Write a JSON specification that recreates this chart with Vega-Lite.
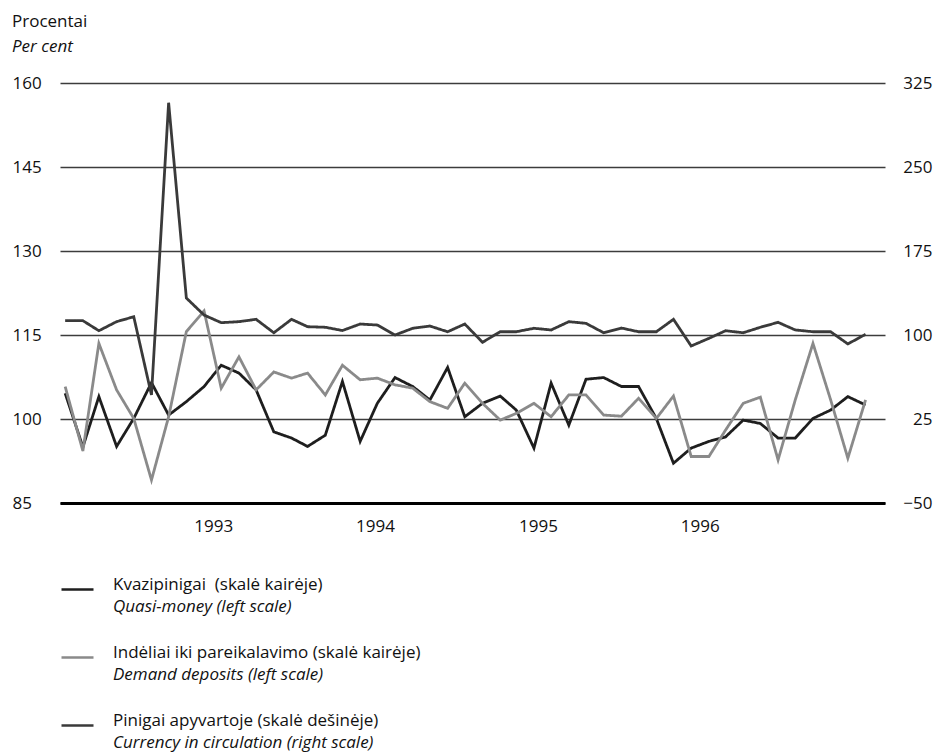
{
  "$schema": "https://vega.github.io/schema/vega-lite/v6.json",
  "autosize": "none",
  "padding": {"left": 60, "top": 83, "right": 56, "bottom": 249},
  "width": 825,
  "height": 420,
  "background": "white",
  "config": {
    "font": "Open Sans",
    "view": {"stroke": null},
    "axis": {"labelColor": "#111", "labelFontSize": 17, "title": null}
  },
  "title": {
    "text": "Procentai",
    "subtitle": "Per cent",
    "anchor": "start",
    "frame": "bounds",
    "fontSize": 17,
    "fontWeight": "normal",
    "color": "#111",
    "subtitleFontSize": 17,
    "subtitleFontStyle": "italic",
    "subtitleColor": "#111",
    "subtitlePadding": 8,
    "offset": 18
  },
  "datasets": {
    "monthly": [
      {"date": "1993-01-01", "quasi": 104.6, "demand": 105.8, "currency": 112.8},
      {"date": "1993-02-01", "quasi": 95.0, "demand": 94.3, "currency": 112.8},
      {"date": "1993-03-01", "quasi": 104.0, "demand": 113.5, "currency": 103.8},
      {"date": "1993-04-01", "quasi": 95.1, "demand": 105.2, "currency": 111.9},
      {"date": "1993-05-01", "quasi": 100.1, "demand": 100.1, "currency": 116.3},
      {"date": "1993-06-01", "quasi": 106.5, "demand": 89.1, "currency": 46.4},
      {"date": "1993-07-01", "quasi": 100.7, "demand": 100.4, "currency": 307.4},
      {"date": "1993-08-01", "quasi": 103.1, "demand": 115.6, "currency": 133.0},
      {"date": "1993-09-01", "quasi": 105.8, "demand": 119.3, "currency": 117.8},
      {"date": "1993-10-01", "quasi": 109.6, "demand": 105.5, "currency": 111.0},
      {"date": "1993-11-01", "quasi": 108.2, "demand": 111.1, "currency": 111.9},
      {"date": "1993-12-01", "quasi": 105.2, "demand": 105.2, "currency": 114.0},
      {"date": "1994-01-01", "quasi": 97.7, "demand": 108.4, "currency": 102.0},
      {"date": "1994-02-01", "quasi": 96.6, "demand": 107.3, "currency": 114.0},
      {"date": "1994-03-01", "quasi": 95.1, "demand": 108.2, "currency": 107.4},
      {"date": "1994-04-01", "quasi": 97.1, "demand": 104.3, "currency": 106.9},
      {"date": "1994-05-01", "quasi": 106.7, "demand": 109.6, "currency": 104.0},
      {"date": "1994-06-01", "quasi": 96.0, "demand": 107.0, "currency": 109.8},
      {"date": "1994-07-01", "quasi": 102.8, "demand": 107.3, "currency": 108.9},
      {"date": "1994-08-01", "quasi": 107.4, "demand": 106.1, "currency": 100.0},
      {"date": "1994-09-01", "quasi": 105.8, "demand": 105.5, "currency": 106.0},
      {"date": "1994-10-01", "quasi": 103.4, "demand": 103.1, "currency": 108.0},
      {"date": "1994-11-01", "quasi": 109.2, "demand": 101.9, "currency": 102.9},
      {"date": "1994-12-01", "quasi": 100.4, "demand": 106.4, "currency": 109.8},
      {"date": "1995-01-01", "quasi": 102.8, "demand": 102.8, "currency": 93.5},
      {"date": "1995-02-01", "quasi": 104.1, "demand": 99.8, "currency": 102.9},
      {"date": "1995-03-01", "quasi": 101.6, "demand": 101.0, "currency": 102.9},
      {"date": "1995-04-01", "quasi": 94.8, "demand": 102.8, "currency": 106.0},
      {"date": "1995-05-01", "quasi": 106.4, "demand": 100.4, "currency": 104.5},
      {"date": "1995-06-01", "quasi": 98.9, "demand": 104.3, "currency": 111.9},
      {"date": "1995-07-01", "quasi": 107.1, "demand": 104.3, "currency": 110.4},
      {"date": "1995-08-01", "quasi": 107.4, "demand": 100.7, "currency": 102.0},
      {"date": "1995-09-01", "quasi": 105.8, "demand": 100.5, "currency": 106.2},
      {"date": "1995-10-01", "quasi": 105.8, "demand": 103.7, "currency": 102.9},
      {"date": "1995-11-01", "quasi": 100.1, "demand": 100.1, "currency": 102.9},
      {"date": "1995-12-01", "quasi": 92.1, "demand": 104.1, "currency": 114.0},
      {"date": "1996-01-01", "quasi": 94.8, "demand": 93.3, "currency": 90.2},
      {"date": "1996-02-01", "quasi": 96.0, "demand": 93.3, "currency": 97.0},
      {"date": "1996-03-01", "quasi": 96.8, "demand": 98.0, "currency": 103.8},
      {"date": "1996-04-01", "quasi": 99.8, "demand": 102.8, "currency": 102.0},
      {"date": "1996-05-01", "quasi": 99.2, "demand": 103.9, "currency": 106.9},
      {"date": "1996-06-01", "quasi": 96.6, "demand": 92.7, "currency": 111.3},
      {"date": "1996-07-01", "quasi": 96.6, "demand": 103.4, "currency": 104.5},
      {"date": "1996-08-01", "quasi": 100.1, "demand": 113.5, "currency": 102.9},
      {"date": "1996-09-01", "quasi": 101.6, "demand": 103.4, "currency": 102.9},
      {"date": "1996-10-01", "quasi": 104.0, "demand": 93.0, "currency": 92.0},
      {"date": "1996-11-01", "quasi": 102.5, "demand": 103.4, "currency": 100.6}
    ],
    "names": [
      {"code": "quasi", "lt": "Kvazipinigai\u00a0 (skalė kairėje)", "en": "Quasi-money (left scale)"},
      {"code": "demand", "lt": "Indėliai iki pareikalavimo (skalė kairėje)", "en": "Demand deposits (left scale)"},
      {"code": "currency", "lt": "Pinigai apyvartoje (skalė dešinėje)", "en": "Currency in circulation (right scale)"}
    ]
  },
  "data": {"name": "monthly"},
  "transform": [
    {"fold": ["quasi", "demand", "currency"], "as": ["code", "value"]},
    {"lookup": "code", "from": {"data": {"name": "names"}, "key": "code", "fields": ["lt", "en"]}}
  ],
  "encoding": {
    "x": {
      "field": "date",
      "type": "temporal",
      "scale": {"domain": [{"year": 1992, "month": 12, "date": 23}, {"year": 1996, "month": 12, "date": 5}]},
      "axis": {
        "values": [
          {"year": 1993, "month": 9, "date": 17},
          {"year": 1994, "month": 6, "date": 27},
          {"year": 1995, "month": 4, "date": 8},
          {"year": 1996, "month": 1, "date": 16}
        ],
        "format": "%Y",
        "grid": false,
        "ticks": false,
        "domainColor": "#000",
        "domainWidth": 3,
        "labelPadding": 15,
        "labelFlush": false
      }
    },
    "color": {
      "field": "lt",
      "type": "nominal",
      "scale": {
        "domain": ["Kvazipinigai\u00a0 (skalė kairėje)", "Indėliai iki pareikalavimo (skalė kairėje)", "Pinigai apyvartoje (skalė dešinėje)"],
        "range": ["#1e1e1e", "#8a8a8a", "#3a3a3a"]
      },
      "legend": {
        "orient": "none", "legendX": 0, "legendY": 489, "title": null, "padding": 0,
        "symbolType": "stroke", "symbolSize": 1024, "symbolStrokeWidth": 2.5,
        "labelFontSize": 17, "labelColor": "#111", "labelOffset": 18, "rowPadding": 45,
        "labelBaseline": "alphabetic", "labelLimit": 700
      }
    },
    "strokeDash": {
      "field": "en",
      "type": "nominal",
      "scale": {
        "domain": ["Quasi-money (left scale)", "Demand deposits (left scale)", "Currency in circulation (right scale)"],
        "range": [[1, 0], [1, 0], [1, 0]]
      },
      "legend": {
        "orient": "none", "legendX": 0, "legendY": 511, "title": null, "padding": 0,
        "symbolType": "stroke", "symbolSize": 1024, "symbolOpacity": 0, "symbolStrokeWidth": 2.5,
        "labelFontSize": 17, "labelColor": "#111", "labelFontStyle": "italic", "labelOffset": 18, "rowPadding": 47,
        "labelBaseline": "alphabetic", "labelLimit": 700
      }
    }
  },
  "layer": [
    {
      "transform": [{"filter": "datum.code != 'currency'"}],
      "mark": {"type": "line", "strokeWidth": 2.8},
      "encoding": {
        "y": {
          "field": "value",
          "type": "quantitative",
          "scale": {"domain": [85, 160], "nice": false, "zero": false},
          "axis": {
            "orient": "left",
            "values": [85, 100, 115, 130, 145, 160],
            "grid": true,
            "gridColor": "#3c3c3c",
            "gridWidth": 1.3,
            "domain": false,
            "ticks": false,
            "labelAlign": "left",
            "labelPadding": 48
          }
        }
      }
    },
    {
      "transform": [{"filter": "datum.code == 'currency'"}],
      "mark": {"type": "line", "strokeWidth": 2.8},
      "encoding": {
        "y": {
          "field": "value",
          "type": "quantitative",
          "scale": {"domain": [-50, 325], "nice": false, "zero": false},
          "axis": {
            "orient": "right",
            "values": [-50, 25, 100, 175, 250, 325],
            "grid": false,
            "domain": false,
            "ticks": false,
            "labelAlign": "right",
            "labelPadding": 47
          }
        }
      }
    }
  ],
  "resolve": {"scale": {"y": "independent"}}
}
